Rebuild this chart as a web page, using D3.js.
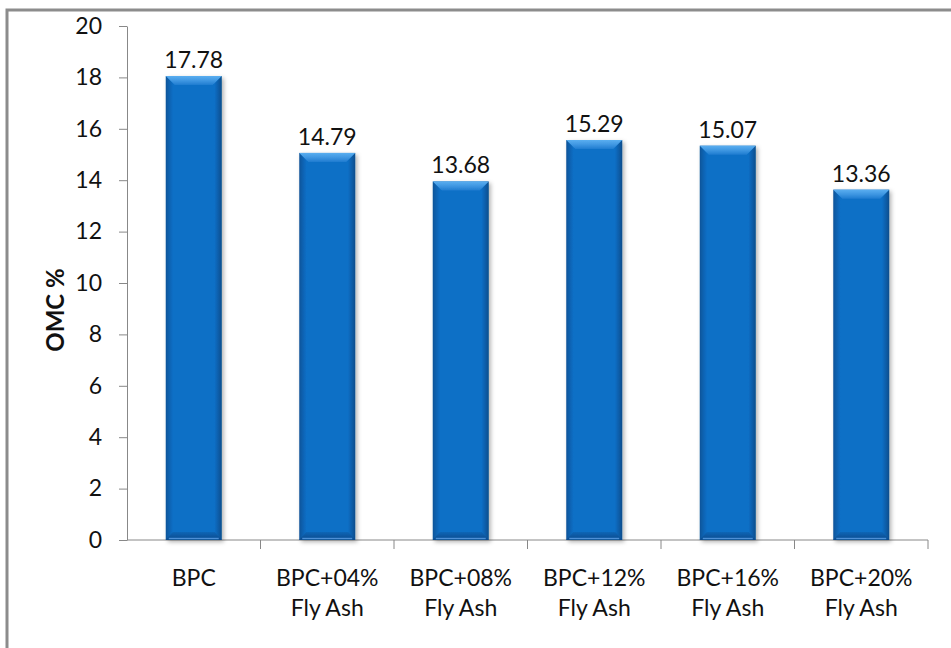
<!DOCTYPE html>
<html>
<head>
<meta charset="utf-8">
<script src="https://cdn.jsdelivr.net/npm/d3@7"></script>
<style>
  html, body { margin: 0; padding: 0; background: #fff; }
  svg { display: block; }
  text { font-family: Lato, "Open Sans", "Liberation Sans", sans-serif; fill: #111; }
</style>
</head>
<body>
<svg id="chart" width="951" height="648"></svg>
<script>
// Optimum moisture content for each mix
const categories = ["BPC", "BPC+04%\nFly Ash", "BPC+08%\nFly Ash", "BPC+12%\nFly Ash", "BPC+16%\nFly Ash", "BPC+20%\nFly Ash"];
const omcValues = [17.78, 14.79, 13.68, 15.29, 15.07, 13.36];
const yTicks = [0, 2, 4, 6, 8, 10, 12, 14, 16, 18, 20];
const yLabel = "OMC %";

const svg = d3.select("#chart");
const W = 951, H = 648;
const plot = { left: 127, right: 928, top: 26, bottom: 540 };

// outer frame (only top and left edges fall inside the view)
svg.append("rect")
  .attr("x", 7).attr("y", 10).attr("width", W + 20).attr("height", H + 20)
  .attr("fill", "#fff").attr("stroke", "#8c8c8c").attr("stroke-width", 3);

const x = d3.scaleBand().domain(categories).range([plot.left, plot.right]).paddingInner(0).paddingOuter(0);
const y = d3.scaleLinear().domain([0, 20]).range([plot.bottom, plot.top]);

const defs = svg.append("defs");
// body shading: darker bevel on both sides
const gBody = defs.append("linearGradient").attr("id", "barBody").attr("x1", 0).attr("x2", 1).attr("y1", 0).attr("y2", 0);
[[0, "#0a5499"], [0.07, "#0b63b3"], [0.13, "#0b6fc6"], [0.87, "#0b6fc6"], [0.93, "#0a60ad"], [1, "#084d8c"]]
  .forEach(([o, c]) => gBody.append("stop").attr("offset", o).attr("stop-color", c));
// top bevel highlight
const gCap = defs.append("linearGradient").attr("id", "barCap").attr("x1", 0).attr("x2", 0).attr("y1", 0).attr("y2", 1);
[[0, "#5aaef0"], [0.5, "#3f97e2"], [1, "#1f7cd0"]]
  .forEach(([o, c]) => gCap.append("stop").attr("offset", o).attr("stop-color", c));
const gBottom = defs.append("linearGradient").attr("id", "barBottom").attr("x1", 0).attr("x2", 0).attr("y1", 0).attr("y2", 1);
[[0, "#0b66b6"], [1, "#08498a"]]
  .forEach(([o, c]) => gBottom.append("stop").attr("offset", o).attr("stop-color", c));
const shadow = defs.append("filter").attr("id", "shadow").attr("x", "-20%").attr("y", "-5%").attr("width", "140%").attr("height", "115%");
shadow.append("feDropShadow").attr("dx", 2).attr("dy", 2).attr("stdDeviation", 2).attr("flood-color", "#000").attr("flood-opacity", 0.3);

// y axis
const yAxis = d3.axisLeft(y).tickValues(yTicks).tickSize(8).tickPadding(17).tickSizeOuter(0);
const gy = svg.append("g").attr("transform", `translate(${plot.left},0)`).call(yAxis);
gy.select(".domain").attr("stroke", "#888");
gy.selectAll(".tick line").attr("stroke", "#888");
gy.selectAll(".tick text").style("font-size", "23px").attr("fill", "#111");

// x axis with ticks at category boundaries
svg.append("line")
  .attr("x1", plot.left).attr("x2", plot.right).attr("y1", plot.bottom).attr("y2", plot.bottom)
  .attr("stroke", "#888");
const boundaries = categories.map(c => x(c) + x.bandwidth());
svg.append("g").selectAll("line").data(boundaries).join("line")
  .attr("x1", d => d).attr("x2", d => d).attr("y1", plot.bottom).attr("y2", plot.bottom + 9)
  .attr("stroke", "#888");

// category labels
const xl = svg.append("g").selectAll("text").data(categories).join("text")
  .attr("x", d => x(d) + x.bandwidth() / 2)
  .attr("text-anchor", "middle")
  .style("font-size", "23px");
xl.each(function(d) {
  const lines = d.split("\n");
  d3.select(this).selectAll("tspan").data(lines).join("tspan")
    .attr("x", x(d) + x.bandwidth() / 2)
    .attr("y", (l, i) => 586 + i * 30)
    .text(l => l);
});

// bars
const bw = 56, bevel = 7;
const bars = svg.append("g").selectAll("g").data(omcValues).join("g")
  .attr("transform", (d, i) => `translate(${x(categories[i]) + x.bandwidth() / 2 - bw / 2},0)`)
  .attr("filter", "url(#shadow)");
bars.append("rect")
  .attr("x", 0).attr("width", bw)
  .attr("y", d => y(d) - bevel)
  .attr("height", d => y(0) - y(d) + bevel)
  .attr("fill", "url(#barBody)");
// top bevel
bars.append("path")
  .attr("d", d => {
    const t = y(d) - bevel;
    return `M0,${t} L${bw},${t} L${bw - 9},${t + 9} L9,${t + 9} Z`;
  })
  .attr("fill", "url(#barCap)");
// bottom bevel
bars.append("path")
  .attr("d", () => {
    const b = y(0);
    return `M0,${b} L${bw},${b} L${bw - 7},${b - 8} L7,${b - 8} Z`;
  })
  .attr("fill", "url(#barBottom)");
bars.append("line")
  .attr("x1", 3).attr("x2", bw - 3).attr("y1", y(0) - 1.5).attr("y2", y(0) - 1.5)
  .attr("stroke", "#4d8fd6").attr("stroke-width", 1.5);

// value labels
svg.append("g").selectAll("text").data(omcValues).join("text")
  .attr("x", (d, i) => x(categories[i]) + x.bandwidth() / 2)
  .attr("y", d => y(d) - bevel - 8)
  .attr("text-anchor", "middle")
  .style("font-size", "23px")
  .text(d => d.toFixed(2));

// y axis title
svg.append("text")
  .attr("transform", "translate(64,310) rotate(-90)")
  .attr("text-anchor", "middle")
  .style("font-size", "24px").style("font-weight", "bold")
  .text(yLabel);
</script>
</body>
</html>
